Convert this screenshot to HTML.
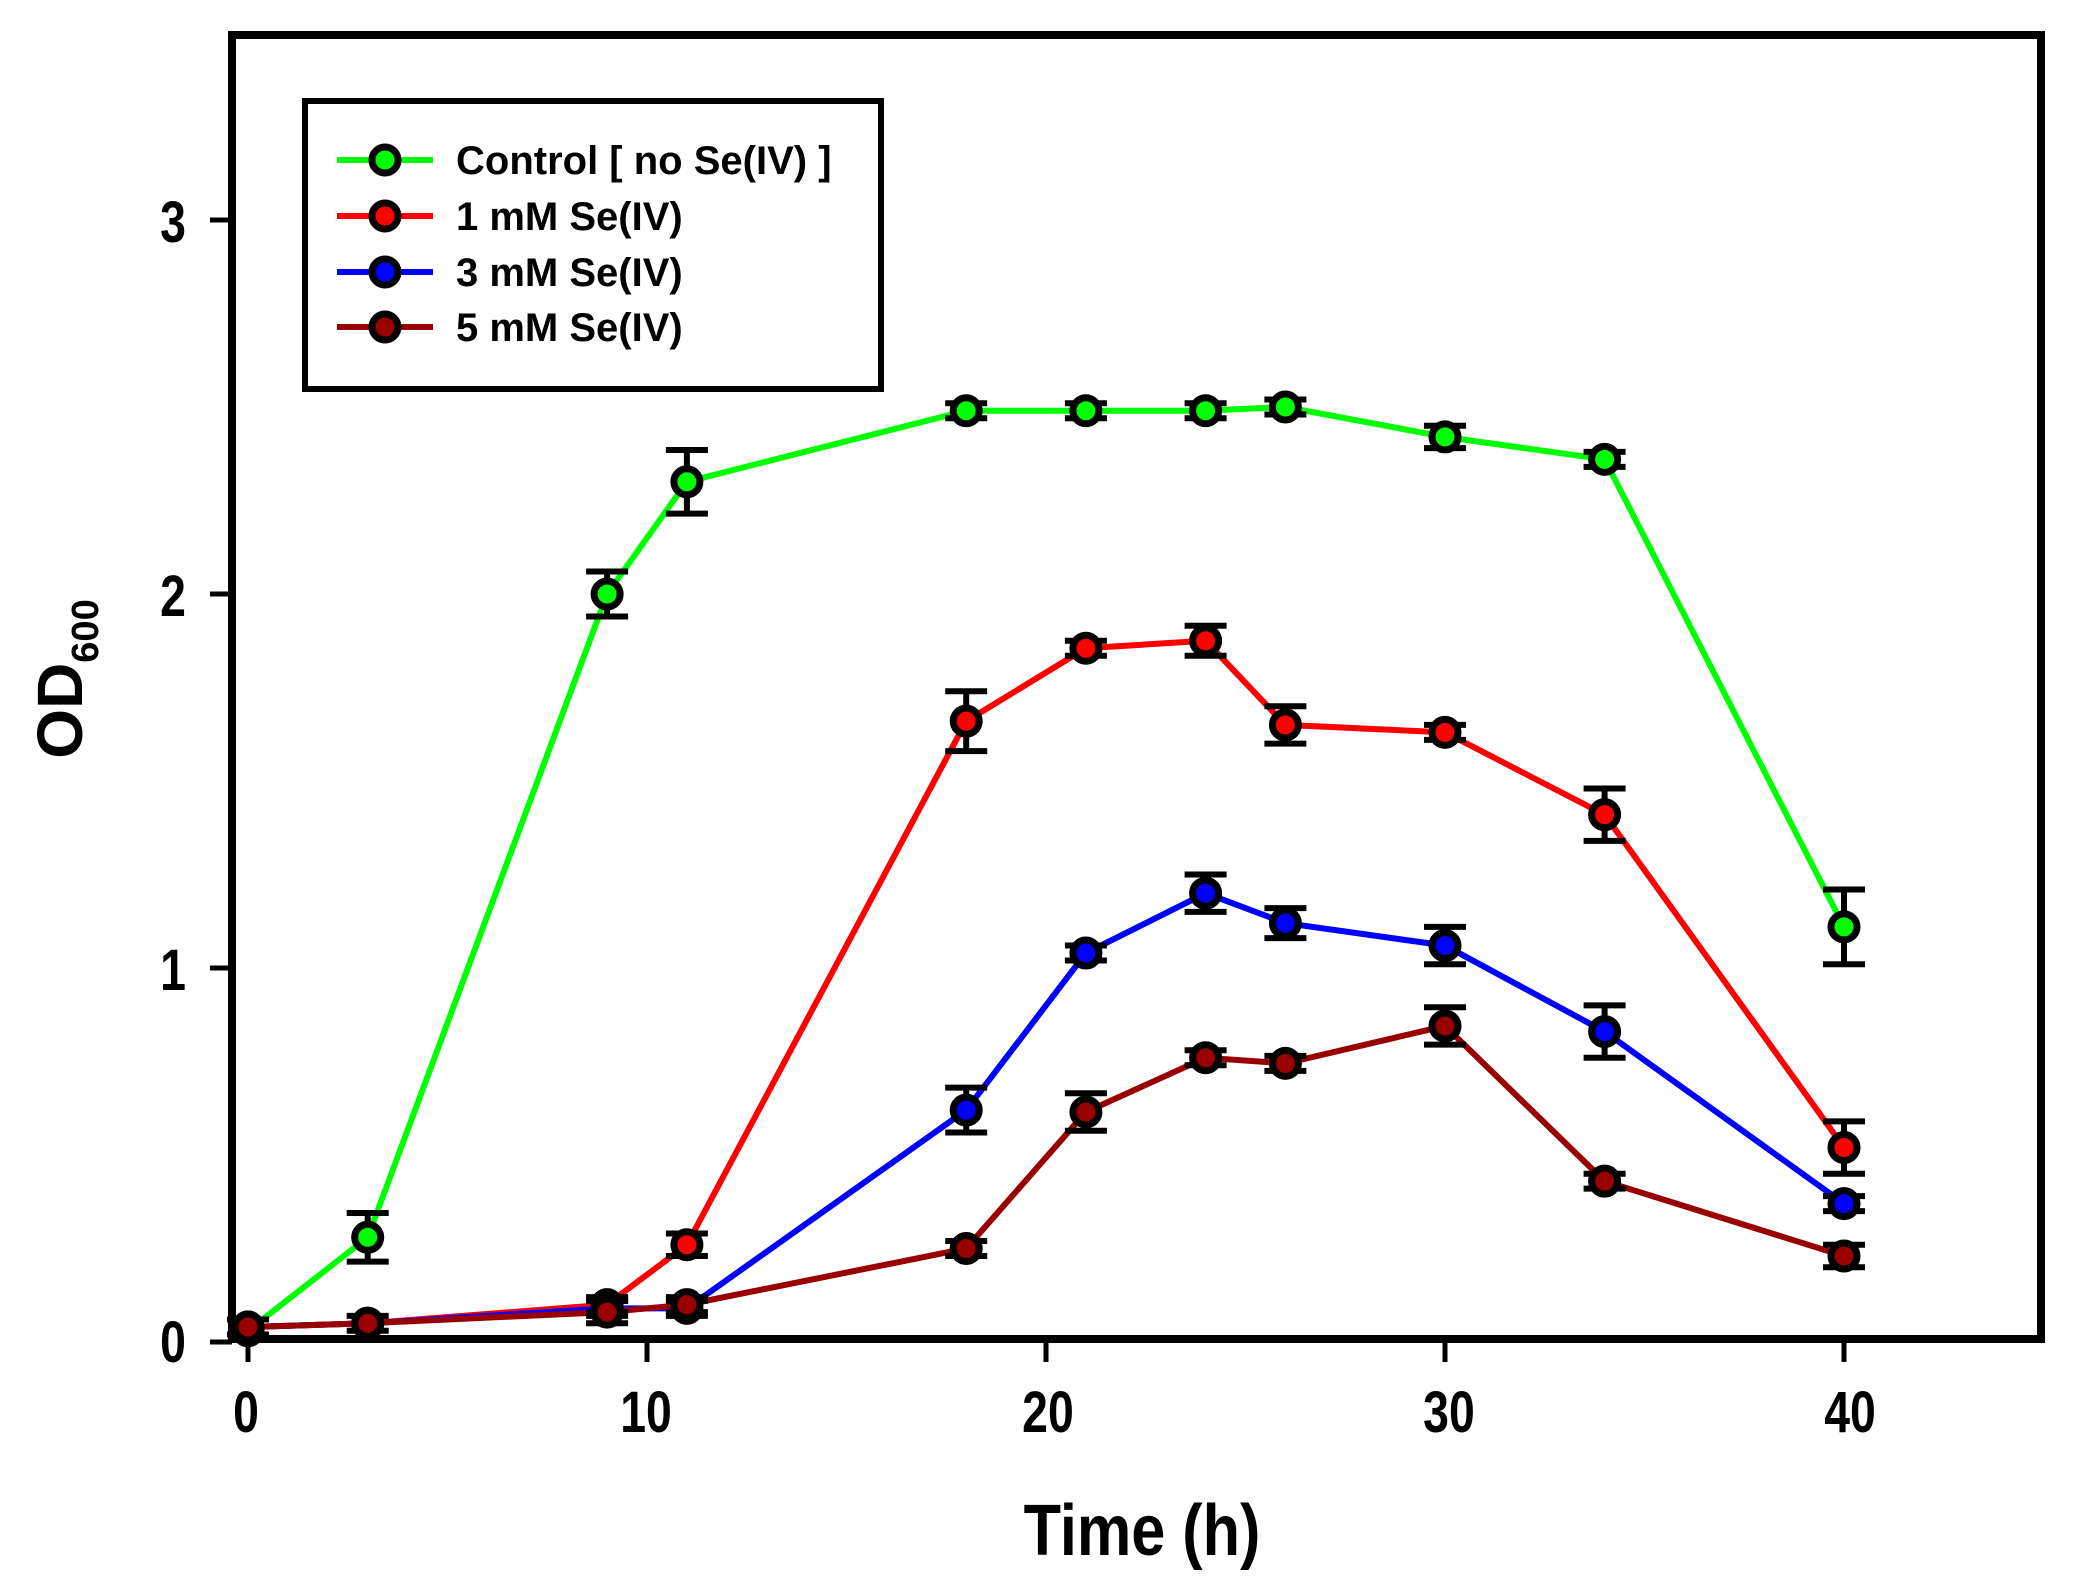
<!DOCTYPE html>
<html><head><meta charset="utf-8"><style>
html,body{margin:0;padding:0;background:#fff;}
svg{display:block;}
text{font-family:"Liberation Sans",Arial,sans-serif;font-weight:bold;}
</style></head><body>
<svg id="s" width="2076" height="1578" viewBox="0 0 2076 1578" xmlns="http://www.w3.org/2000/svg">
<rect x="0" y="0" width="2076" height="1578" fill="#fff"/>
<rect x="232" y="35" width="1809" height="1304" fill="none" stroke="#000" stroke-width="8"/>
<g id="ticks" stroke="#000" stroke-width="5"></g>
<g font-size="58" text-anchor="middle">
<text x="246" y="1432" transform="translate(246 0) scale(0.8 1) translate(-246 0)">0</text>
<text x="646" y="1432" transform="translate(646 0) scale(0.8 1) translate(-646 0)">10</text>
<text x="1048" y="1432" transform="translate(1048 0) scale(0.8 1) translate(-1048 0)">20</text>
<text x="1449" y="1432" transform="translate(1449 0) scale(0.8 1) translate(-1449 0)">30</text>
<text x="1850" y="1432" transform="translate(1850 0) scale(0.8 1) translate(-1850 0)">40</text>
</g>
<g font-size="58" text-anchor="end">
<text x="186" y="1362" transform="translate(186 0) scale(0.8 1) translate(-186 0)">0</text>
<text x="186" y="990" transform="translate(186 0) scale(0.8 1) translate(-186 0)">1</text>
<text x="186" y="616" transform="translate(186 0) scale(0.8 1) translate(-186 0)">2</text>
<text x="186" y="242" transform="translate(186 0) scale(0.8 1) translate(-186 0)">3</text>
</g>
<text x="1142" y="1555" font-size="72" text-anchor="middle" transform="translate(1142 0) scale(0.85 1) translate(-1142 0)">Time (h)</text>
<text transform="translate(82 679) rotate(-90)" font-size="64" text-anchor="middle">OD<tspan font-size="38" dy="16">600</tspan></text>
<rect x="305" y="101" width="576" height="288" fill="#fff" stroke="#000" stroke-width="6"/>
<g id="leg"></g>
<g font-size="40">
<text x="456" y="174">Control [ no Se(IV) ]</text>
<text x="456" y="230">1 mM Se(IV)</text>
<text x="456" y="286">3 mM Se(IV)</text>
<text x="456" y="341">5 mM Se(IV)</text>
</g>
<g id="plot"></g>
</svg>
<script>
const NS="http://www.w3.org/2000/svg";
const X=t=>248+39.9*t, Y=v=>1342-374*v;
function el(p,n,a){const e=document.createElementNS(NS,n);for(const k in a)e.setAttribute(k,a[k]);p.appendChild(e);return e;}
const tk=document.getElementById('ticks');
[0,10,20,30,40].forEach(t=>el(tk,'line',{x1:X(t),x2:X(t),y1:1339,y2:1362}));
[0,1,2,3].forEach(v=>el(tk,'line',{x1:210,x2:232,y1:Y(v),y2:Y(v)}));
const series=[
 ['#00ff00',[[0,0.03,0],[3,0.28,0.065],[9,2.0,0.06],[11,2.3,0.085],[18,2.49,0.02],[21,2.49,0.02],[24,2.49,0.02],[26,2.5,0.02],[30,2.42,0.03],[34,2.36,0.02],[40,1.11,0.1]]],
 ['#ff0000',[[0,0.04,0],[3,0.05,0],[9,0.1,0.02],[11,0.26,0.03],[18,1.66,0.08],[21,1.855,0.02],[24,1.875,0.04],[26,1.65,0.05],[30,1.63,0.02],[34,1.41,0.07],[40,0.52,0.07]]],
 ['#0000ff',[[0,0.04,0],[3,0.05,0],[9,0.09,0.02],[11,0.09,0.02],[18,0.62,0.06],[21,1.04,0.02],[24,1.2,0.05],[26,1.12,0.04],[30,1.06,0.05],[34,0.83,0.07],[40,0.37,0.02]]],
 ['#990000',[[0,0.04,0.02],[3,0.05,0.02],[9,0.08,0.03],[11,0.1,0.02],[18,0.25,0.02],[21,0.615,0.05],[24,0.76,0.02],[26,0.745,0.02],[30,0.845,0.05],[34,0.43,0.02],[40,0.23,0.03]]]
];
const g=document.getElementById('plot');
series.forEach(([c,d])=>el(g,'polyline',{points:d.map(p=>X(p[0])+','+Y(p[1])).join(' '),fill:'none',stroke:c,'stroke-width':6}));
series.forEach(([c,d])=>d.forEach(([t,v,e])=>{
 const x=X(t);
 if(e>0){const y1=Y(v+e),y2=Y(v-e);
  el(g,'line',{x1:x,x2:x,y1:y1,y2:y2,stroke:'#000','stroke-width':6});
  el(g,'line',{x1:x-21,x2:x+21,y1:y1,y2:y1,stroke:'#000','stroke-width':6});
  el(g,'line',{x1:x-21,x2:x+21,y1:y2,y2:y2,stroke:'#000','stroke-width':6});}
 el(g,'circle',{cx:x,cy:Y(v),r:13,fill:c,stroke:'#000','stroke-width':7});
}));
const lg=document.getElementById('leg');
[160,216,272,327].forEach((y,i)=>{const c=series[i][0];
 el(lg,'line',{x1:337,x2:433,y1:y,y2:y,stroke:c,'stroke-width':6});
 el(lg,'circle',{cx:385,cy:y,r:13,fill:c,stroke:'#000','stroke-width':7});});
</script>
</body></html>
